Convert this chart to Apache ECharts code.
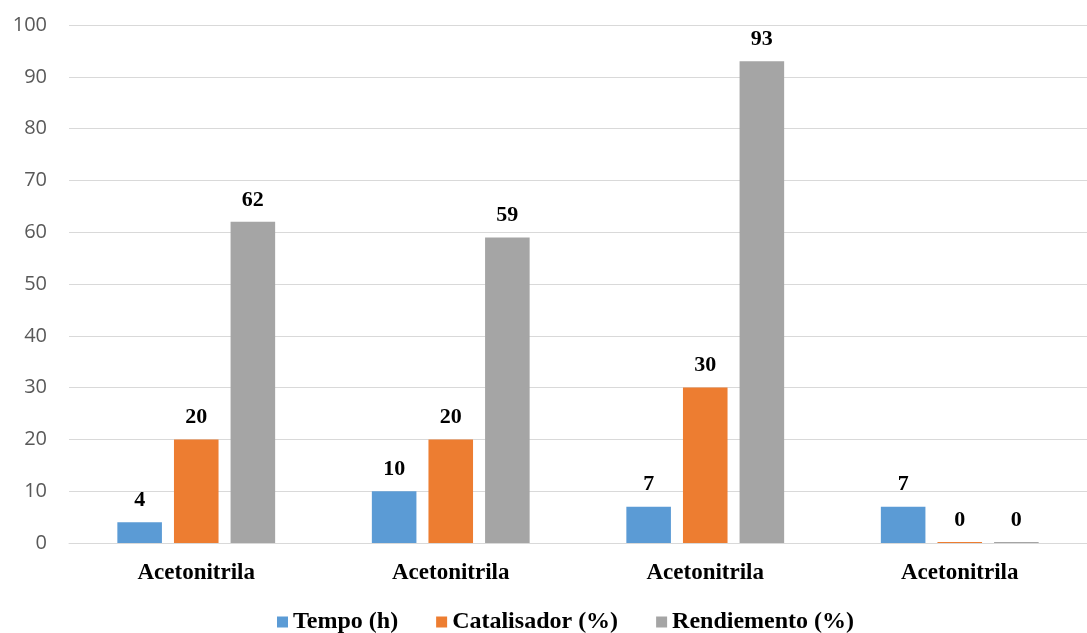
<!DOCTYPE html>
<html><head><meta charset="utf-8">
<script src="https://cdn.jsdelivr.net/npm/echarts@6/dist/echarts.min.js"></script>
<style>html,body{margin:0;padding:0;background:#fff}#c{width:1087px;height:633px}</style>
</head><body><div id="c"></div>
<script>
const categories = ["Acetonitrila","Acetonitrila","Acetonitrila","Acetonitrila"];
const tempo = [4, 10, 7, 7];
const catalisador = [20, 20, 30, 0];
const rendimiento = [62, 59, 93, 0];
const seriesNames = ["Tempo (h)", "Catalisador (%)", "Rendiemento (%)"];
const colors = ["#5b9bd5", "#ed7d31", "#a5a5a5"];

const chart = echarts.init(document.getElementById('c'), null, {renderer:'canvas'});
const serif = '"Liberation Serif","Times New Roman",serif';
function mk(name, data, color){
  return {
    name, type:'bar', data, barMinHeight:1,
    itemStyle:{color},
    barGap:'27%', barCategoryGap:'38%',
    label:{show:true, position:'top', distance:11, fontFamily:serif, fontWeight:'bold', fontSize:22, color:'#000'}
  };
}
chart.setOption({
  animation:false,
  color: colors,
  grid:{left:69, right:0, top:25, bottom:90, containLabel:false},
  legend:{top:610, left:277, itemWidth:11, itemHeight:11, itemGap:38, icon:'rect', padding:0,
    textStyle:{fontFamily:serif, fontWeight:'bold', fontSize:24, color:'#000'}},
  xAxis:{type:'category', data:categories,
    axisLine:{lineStyle:{color:'#d9d9d9'}}, axisTick:{show:false},
    axisLabel:{margin:19, fontFamily:serif, fontWeight:'bold', fontSize:23, color:'#000'}},
  yAxis:{type:'value', min:0, max:100, interval:10,
    axisLine:{show:false}, axisTick:{show:false},
    splitLine:{lineStyle:{color:'#d9d9d9', width:1}},
    axisLabel:{margin:22, fontFamily:'"Open Sans","Liberation Sans",sans-serif', fontSize:20, color:'#595959'}},
  series:[mk(seriesNames[0], tempo, colors[0]), mk(seriesNames[1], catalisador, colors[1]), mk(seriesNames[2], rendimiento, colors[2])]
});
</script></body></html>
